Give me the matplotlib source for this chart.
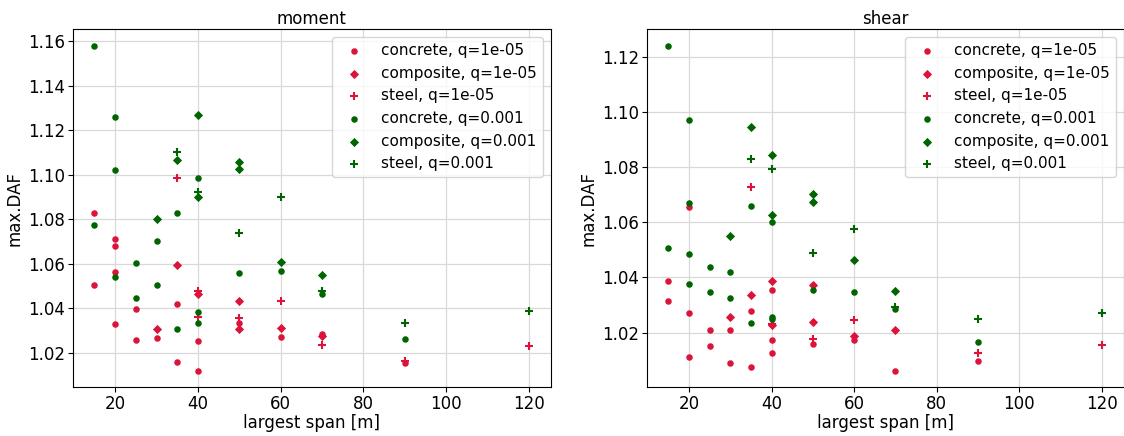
import matplotlib.pyplot as plt

# max. dynamic amplification factor vs. largest span, per bridge type and q
moment_concrete_lo_x = [15, 15, 20, 20, 20, 20, 25, 25, 30, 35, 35, 40, 40, 50, 60, 70, 90]
moment_concrete_lo_y = [1.0827, 1.0503, 1.0712, 1.0681, 1.0564, 1.0331, 1.0398, 1.0256, 1.0265,
                        1.0419, 1.0159, 1.0251, 1.0118, 1.0332, 1.0273, 1.0283, 1.0152]
moment_composite_lo_x = [30, 35, 40, 50, 50, 60, 70]
moment_composite_lo_y = [1.0309, 1.0596, 1.0464, 1.0434, 1.0307, 1.0313, 1.0276]
moment_steel_lo_x = [35, 40, 40, 50, 60, 70, 90, 120]
moment_steel_lo_y = [1.0987, 1.0476, 1.0362, 1.0356, 1.0432, 1.0234, 1.0164, 1.0229]
moment_concrete_hi_x = [15, 15, 20, 20, 20, 25, 25, 30, 30, 35, 35, 40, 40, 40, 50, 60, 70, 90]
moment_concrete_hi_y = [1.158, 1.0775, 1.1257, 1.1023, 1.0542, 1.0603, 1.0446, 1.0700, 1.0504,
                        1.0829, 1.0309, 1.0984, 1.0385, 1.0335, 1.0560, 1.0567, 1.0464, 1.0264]
moment_composite_hi_x = [30, 35, 40, 40, 50, 50, 60, 70]
moment_composite_hi_y = [1.0800, 1.1068, 1.1266, 1.0900, 1.1056, 1.1027, 1.0606, 1.0549]
moment_steel_hi_x = [35, 40, 50, 60, 70, 90, 120]
moment_steel_hi_y = [1.1100, 1.0921, 1.0737, 1.0899, 1.0477, 1.0332, 1.0387]

shear_concrete_lo_x = [15, 15, 20, 20, 20, 25, 25, 30, 30, 35, 35, 40, 40, 40, 50, 60, 70, 90]
shear_concrete_lo_y = [1.0386, 1.0314, 1.0655, 1.0270, 1.0112, 1.0211, 1.0151, 1.0209, 1.0090,
                       1.0279, 1.0076, 1.0354, 1.0174, 1.0126, 1.0159, 1.0172, 1.0061, 1.0099]
shear_composite_lo_x = [30, 35, 40, 40, 50, 50, 60, 70]
shear_composite_lo_y = [1.0257, 1.0338, 1.0387, 1.0228, 1.0374, 1.0239, 1.0189, 1.0211]
shear_steel_lo_x = [35, 40, 50, 60, 90, 120]
shear_steel_lo_y = [1.0729, 1.0232, 1.0176, 1.0246, 1.0128, 1.0156]
shear_concrete_hi_x = [15, 15, 20, 20, 20, 20, 25, 25, 30, 30, 35, 35, 40, 40, 40, 50, 60, 70, 90]
shear_concrete_hi_y = [1.1240, 1.0506, 1.0972, 1.0671, 1.0484, 1.0378, 1.0437, 1.0349, 1.0419,
                       1.0326, 1.0659, 1.0234, 1.0600, 1.0256, 1.0250, 1.0355, 1.0349, 1.0286, 1.0165]
shear_composite_hi_x = [30, 35, 40, 40, 50, 50, 60, 70]
shear_composite_hi_y = [1.0549, 1.0946, 1.0843, 1.0626, 1.0701, 1.0672, 1.0463, 1.0351]
shear_steel_hi_x = [35, 40, 50, 60, 70, 90, 120]
shear_steel_hi_y = [1.0830, 1.0794, 1.0488, 1.0577, 1.0292, 1.0249, 1.0270]

labels = ["concrete, q=1e-05", "composite, q=1e-05", "steel, q=1e-05",
          "concrete, q=0.001", "composite, q=0.001", "steel, q=0.001"]

panels = {
    "moment": [
        (moment_concrete_lo_x, moment_concrete_lo_y),
        (moment_composite_lo_x, moment_composite_lo_y),
        (moment_steel_lo_x, moment_steel_lo_y),
        (moment_concrete_hi_x, moment_concrete_hi_y),
        (moment_composite_hi_x, moment_composite_hi_y),
        (moment_steel_hi_x, moment_steel_hi_y),
    ],
    "shear": [
        (shear_concrete_lo_x, shear_concrete_lo_y),
        (shear_composite_lo_x, shear_composite_lo_y),
        (shear_steel_lo_x, shear_steel_lo_y),
        (shear_concrete_hi_x, shear_concrete_hi_y),
        (shear_composite_hi_x, shear_composite_hi_y),
        (shear_steel_hi_x, shear_steel_hi_y),
    ],
}

colors = ["crimson"] * 3 + ["darkgreen"] * 3
markers = ["o", "D", "+"] * 2
sizes = [22, 22, 32] * 2

fig = plt.figure(figsize=(11.24, 4.36), dpi=100)
ax_left = fig.add_axes([0.0647, 0.1117, 0.4253, 0.8211])
ax_right = fig.add_axes([0.5754, 0.1117, 0.4242, 0.8211])

for ax, (name, series) in zip([ax_left, ax_right], panels.items()):
    ax.grid(True, color="#d8d8d8", linewidth=0.9)
    ax.set_axisbelow(True)
    for (xs, ys), lab, c, m, s in zip(series, labels, colors, markers, sizes):
        lw = 1.5 if m == "+" else 0
        ax.scatter(xs, ys, c=c, marker=m, s=s, linewidths=lw, label=lab)
    ax.set_title(name, fontsize=12, pad=4)
    ax.set_xlabel("largest span [m]", fontsize=12, labelpad=1)
    ax.set_ylabel("max.DAF", fontsize=12, labelpad=3)
    ax.tick_params(labelsize=12, pad=2)
    ax.legend(loc="upper right", fontsize=11)

fig.savefig("out.png", dpi=100)
